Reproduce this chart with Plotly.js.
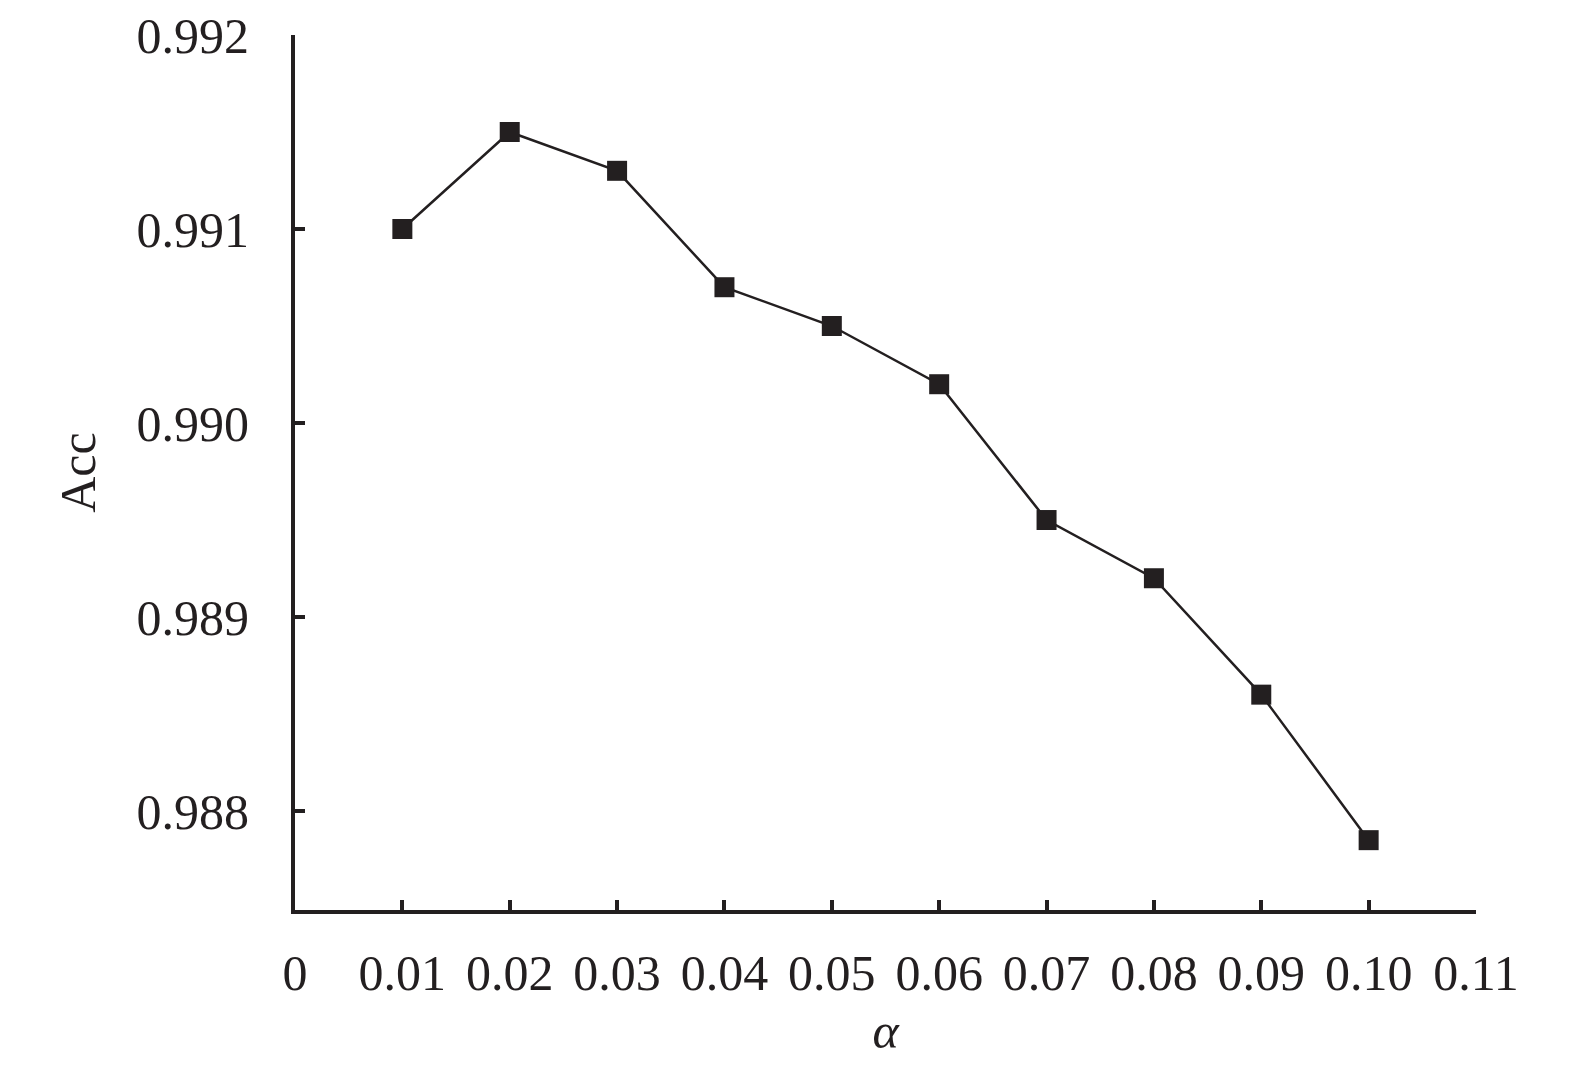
<!DOCTYPE html>
<html><head><meta charset="utf-8">
<script src="https://cdn.plot.ly/plotly-3.0.1.min.js"></script>
<style>html,body{margin:0;padding:0;background:#fff}#chart{width:1575px;height:1077px}</style>
</head><body><div id="chart"></div>
<script>
const alphaValues = [0.01, 0.02, 0.03, 0.04, 0.05, 0.06, 0.07, 0.08, 0.09, 0.10];
const accValues = [0.9910, 0.9915, 0.9913, 0.9907, 0.9905, 0.9902, 0.9895, 0.9892, 0.9886, 0.98785];
const xTickVals = [0, 0.01, 0.02, 0.03, 0.04, 0.05, 0.06, 0.07, 0.08, 0.09, 0.10, 0.11];
const xTickText = ["0", "0.01", "0.02", "0.03", "0.04", "0.05", "0.06", "0.07", "0.08", "0.09", "0.10", "0.11"];
const yTickVals = [0.988, 0.989, 0.990, 0.991, 0.992];
const yTickText = ["0.988", "0.989", "0.990", "0.991", "0.992"];

const fontFam = '"Liberation Serif", "DejaVu Serif", serif';
const trace = {
  x: alphaValues, y: accValues, type: 'scatter', mode: 'lines+markers',
  line: {color: '#231f20', width: 2.5},
  marker: {symbol: 'square', size: 20, color: '#231f20'},
  cliponaxis: false
};
const layout = {
  width: 1575, height: 1077,
  margin: {l: 295, r: 99, t: 35, b: 167},
  paper_bgcolor: '#fff', plot_bgcolor: '#fff',
  showlegend: false,
  font: {family: fontFam, size: 50, color: '#231f20'},
  xaxis: {
    range: [0, 0.11], tickvals: xTickVals, ticktext: xTickText,
    ticks: 'inside', ticklen: 10, tickwidth: 4, tickcolor: '#231f20',
    showline: true, linewidth: 4, linecolor: '#231f20',
    showgrid: false, zeroline: false, ticklabelstandoff: 16,
    tickfont: {family: fontFam, size: 50, color: '#231f20'},
    title: {text: '<i>α</i>', font: {family: fontFam, size: 50, color: '#231f20'}, standoff: 14}
  },
  yaxis: {
    range: [0.98749, 0.992], tickvals: yTickVals, ticktext: yTickText,
    ticks: 'inside', ticklen: 10, tickwidth: 4, tickcolor: '#231f20',
    showline: true, linewidth: 4, linecolor: '#231f20',
    showgrid: false, zeroline: false, ticklabelstandoff: 32,
    tickfont: {family: fontFam, size: 50, color: '#231f20'},
    title: {text: 'Acc', font: {family: fontFam, size: 50, color: '#231f20'}, standoff: 26}
  }
};
Plotly.newPlot('chart', [trace], layout, {displayModeBar: false, staticPlot: true});
</script>
</body></html>
